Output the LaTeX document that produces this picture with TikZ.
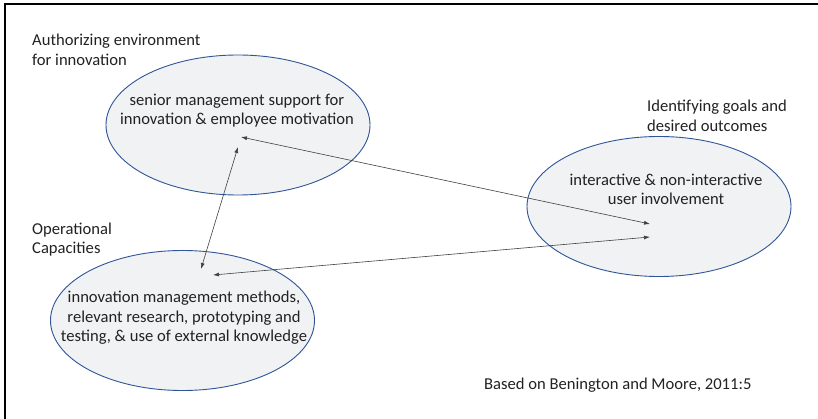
\documentclass[tikz,border=0pt]{standalone}
\usepackage{fontspec}
\setmainfont{Carlito}
\usetikzlibrary{arrows.meta,shapes.geometric}
\definecolor{ellfill}{HTML}{F1F2F4}
\definecolor{elldraw}{HTML}{2F5597}
\definecolor{txt}{HTML}{222222}
\definecolor{arr}{HTML}{404040}
\tikzset{
  bubble/.style={ellipse, draw=elldraw, fill=ellfill, line width=0.9pt,
    minimum width=264pt, minimum height=140pt, inner sep=0pt},
  lbl/.style={text=txt, inner sep=0pt, font=\fontsize{16.6}{19.5}\selectfont},
  link/.style={draw=arr, line width=0.6pt, {Latex[length=6pt,width=4pt]}-{Latex[length=6pt,width=4pt]}}
}
\begin{document}
\begin{tikzpicture}[x=1pt,y=-1pt]
\useasboundingbox (0,0) rectangle (818,419);
\fill[white] (0,0) rectangle (818,419);
\draw[line width=1.5pt, black] (5,419) -- (5,4) -- (818,4);

\node[bubble] (top) at (238,125) {};
\node[bubble] (right) at (659,206.5) {};
\node[bubble] (bottom) at (182.5,320.5) {};

\node[lbl, align=center] (toptext) at (237,110.5) {senior management support for\\innovation \& employee motivation};
\node[lbl, align=center] (righttext) at (666,189.5) {interactive \& non-interactive\\user involvement};
\node[lbl, align=center] (bottomtext) at (184,318) {innovation management methods,\\relevant research, prototyping and\\testing, \& use of external knowledge};

\node[lbl, align=left, anchor=west] (auth) at (32,50) {Authorizing environment\\for innovation};
\node[lbl, align=left, anchor=west] (ident) at (647,116) {Identifying goals and\\desired outcomes};
\node[lbl, align=left, anchor=west] (oper) at (32,239.5) {Operational\\Capacities};
\node[lbl, anchor=base west] (src) at (484,389) {Based on Benington and Moore, 2011:5};

\coordinate (tA) at (241,137);
\coordinate (rA) at (650,224);
\coordinate (tB) at (238,147);
\coordinate (bB) at (201,269);
\coordinate (rC) at (650,237);
\coordinate (bC) at (213,275);

\draw[link] (tA) -- (rA);
\draw[link] (tB) -- (bB);
\draw[link] (bC) -- (rC);
\end{tikzpicture}
\end{document}
